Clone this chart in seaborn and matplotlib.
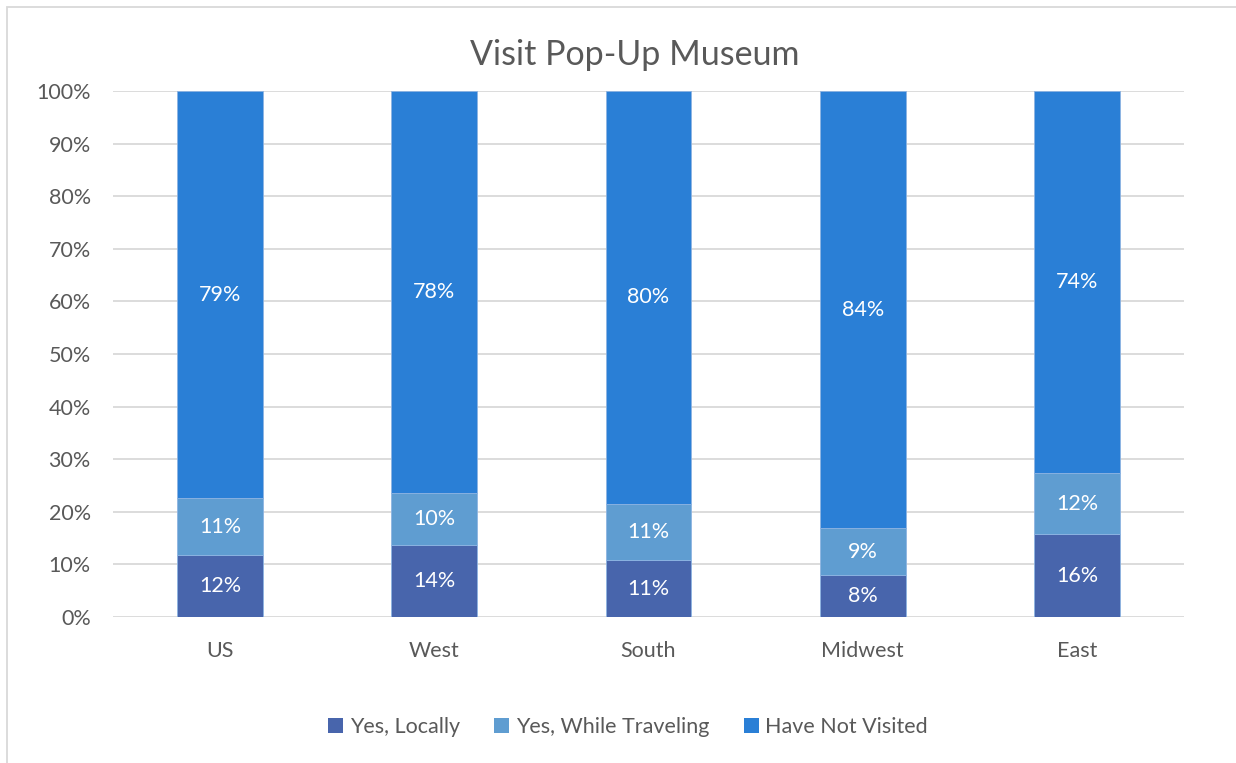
import numpy as np
import pandas as pd
import matplotlib
matplotlib.use("Agg")
import matplotlib.pyplot as plt
import seaborn as sns
from matplotlib.patches import Rectangle, Patch

regions = ["US", "West", "South", "Midwest", "East"]
yes_locally = [12, 14, 11, 8, 16]
yes_traveling = [11, 10, 11, 9, 12]
not_visited = [79, 78, 80, 84, 74]
series_names = ["Yes, Locally", "Yes, While Traveling", "Have Not Visited"]
colors = ["#4865AC", "#5F9DD1", "#2A7FD6"]
yticks = [0, 10, 20, 30, 40, 50, 60, 70, 80, 90, 100]

sns.set_theme(style="white")
plt.rcParams["font.family"] = ["Lato", "DejaVu Sans"]
text_color = "#595959"
fs = 15.5

fig = plt.figure(figsize=(12.36, 7.63), dpi=100)
ax = fig.add_axes([113 / 1236, 1 - 617 / 763, (1184 - 113) / 1236, (617 - 91) / 763])

raw = np.array([yes_locally, yes_traveling, not_visited], dtype=float)
shares = raw / raw.sum(axis=0) * 100  # 100% stacked

bottom = np.zeros(len(regions))
for i, name in enumerate(series_names):
    df = pd.DataFrame({"region": regions, "share": shares[i]})
    sns.barplot(data=df, x="region", y="share", bottom=bottom, color=colors[i],
                width=0.4, ax=ax, label=name, saturation=1, zorder=3,
                edgecolor="#8DB4E2", linewidth=0.6)
    for j in range(len(regions)):
        ax.text(j, bottom[j] + shares[i][j] / 2, f"{int(raw[i][j])}%",
                ha="center", va="center", color="white", fontsize=fs, zorder=4)
    bottom = bottom + shares[i]

ax.set_ylim(0, 100)
ax.set_xlim(-0.5, len(regions) - 0.5)
ax.set_yticks(yticks)
ax.set_yticklabels([f"{t}%" for t in yticks])
ax.yaxis.grid(True, color="#D9D9D9", linewidth=1.3, zorder=0)
ax.xaxis.grid(False)
for s in ax.spines.values():
    s.set_visible(False)
ax.tick_params(axis="both", length=0, labelsize=fs, labelcolor=text_color)
ax.tick_params(axis="y", pad=16)
ax.tick_params(axis="x", pad=17)
ax.set_xlabel("")
ax.set_ylabel("")
if ax.get_legend() is not None:
    ax.get_legend().remove()

fig.text(635 / 1236, 1 - 55 / 763, "Visit Pop-Up Museum", ha="center", va="center",
         fontsize=24.5, color=text_color)

handles = [Patch(facecolor=c, edgecolor="none") for c in colors]
fig.legend(handles, series_names, loc="center", bbox_to_anchor=(628 / 1236, 1 - 727 / 763),
           ncol=3, frameon=False, fontsize=fs, labelcolor=text_color,
           handlelength=0.7, handleheight=0.7, handletextpad=0.3, columnspacing=1.6)

fig.patches.append(Rectangle((7 / 1236, -0.05), 1.1, 1 - 7 / 763 + 0.05,
                             transform=fig.transFigure, fill=False,
                             edgecolor="#D9D9D9", linewidth=1.3))

fig.savefig("out.png", dpi=100, facecolor="white")
